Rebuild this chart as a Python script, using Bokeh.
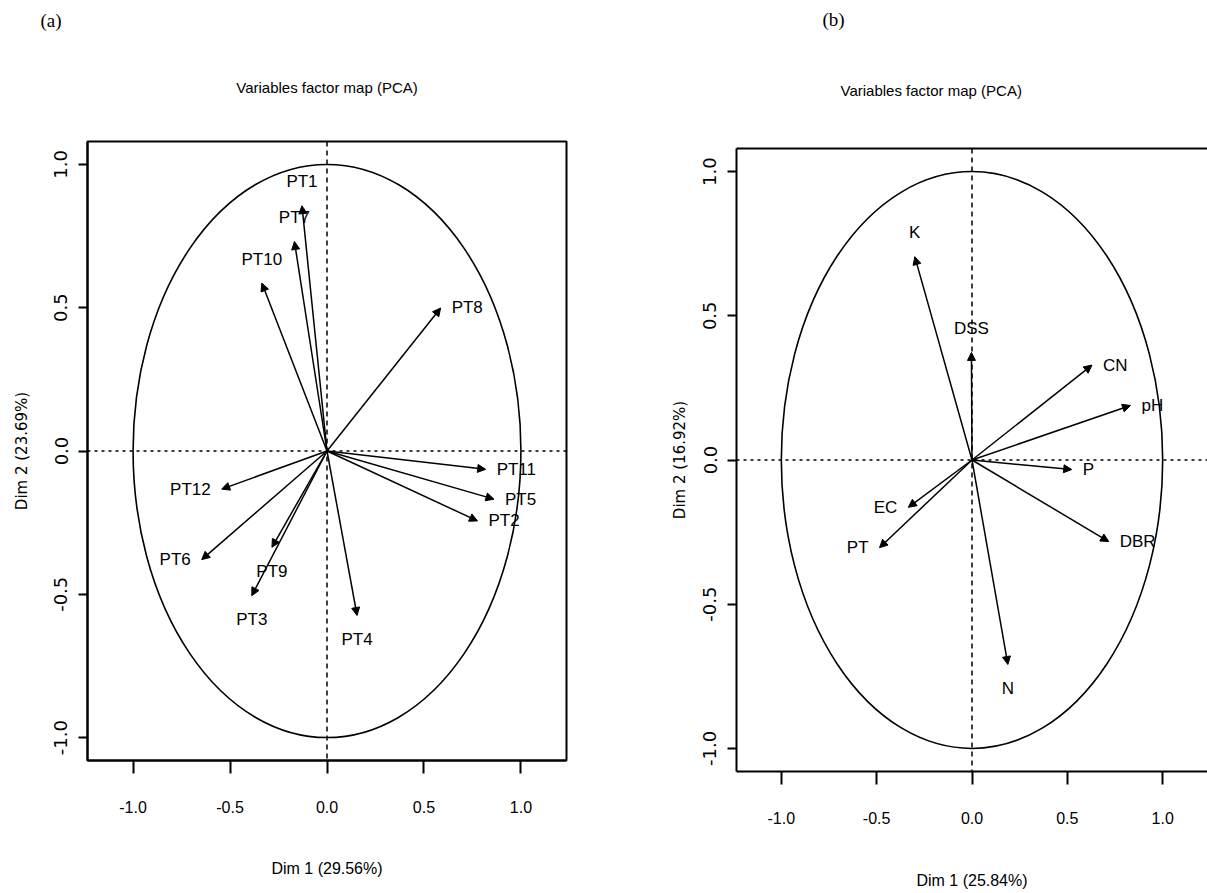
from bokeh.plotting import figure
from bokeh.models import (ColumnDataSource, Arrow, NormalHead, Span, Title,
                          LinearAxis, FixedTicker, Range1d, PrintfTickFormatter)
from bokeh.layouts import row, column
from bokeh.embed import file_html
from bokeh.resources import INLINE
from bokeh.core.properties import value

# ---------------- data ----------------
# Panel (a): PT variables
a_vars = ["PT1", "PT7", "PT10", "PT8", "PT11", "PT5", "PT2", "PT12", "PT6", "PT9", "PT3", "PT4"]
a_dim1 = [-0.129, -0.168, -0.336, 0.586, 0.818, 0.861, 0.776, -0.543, -0.646, -0.284, -0.388, 0.155]
a_dim2 = [0.856, 0.731, 0.586, 0.499, -0.064, -0.168, -0.244, -0.133, -0.379, -0.336, -0.505, -0.574]
a_xlab = "Dim 1 (29.56%)"
a_ylab = "Dim 2 (23.69%)"

# Panel (b): soil variables
b_vars = ["K", "DSS", "CN", "pH", "P", "DBR", "N", "PT", "EC"]
b_dim1 = [-0.300, -0.003, 0.629, 0.831, 0.523, 0.717, 0.188, -0.485, -0.334]
b_dim2 = [0.705, 0.373, 0.329, 0.189, -0.033, -0.283, -0.709, -0.304, -0.164]
b_xlab = "Dim 1 (25.84%)"
b_ylab = "Dim 2 (16.92%)"

ticks = [-1.0, -0.5, 0.0, 0.5, 1.0]
main_title = "Variables factor map (PCA)"
CIRCLE_RADIUS = 1.0

SANS = "Liberation Sans"
WIDE = "DejaVu Sans"
SERIF = "Liberation Serif"


def make_panel(tag, names, d1, d2, xlab, ylab, width, height, bl, bt, br, bb,
               x_als, y_als, tag_offset, tag_standoff, title_align, title_offset,
               title_standoff, full_box):
    p = figure(width=width, height=height,
               x_range=Range1d(-1.235, 1.235), y_range=Range1d(-1.08, 1.08),
               output_backend="svg", toolbar_location=None,
               min_border_left=bl, min_border_top=bt, min_border_right=br,
               min_border_bottom=bb, x_axis_type=None, y_axis_type=None)
    p.xgrid.visible = False
    p.ygrid.visible = False
    p.background_fill_color = "white"
    p.border_fill_color = "white"
    if full_box:
        p.outline_line_color = "black"
        p.outline_line_width = 2
    else:
        p.outline_line_color = None
        top = LinearAxis(ticker=FixedTicker(ticks=[]), axis_line_width=2,
                         axis_line_color="black")
        p.add_layout(top, "above")

    xa = LinearAxis(ticker=FixedTicker(ticks=ticks), axis_label=xlab,
                    formatter=PrintfTickFormatter(format="%.1f"))
    ya = LinearAxis(ticker=FixedTicker(ticks=ticks), axis_label=ylab,
                    formatter=PrintfTickFormatter(format="%.1f"))
    for ax in (xa, ya):
        ax.axis_line_width = 2
        ax.major_tick_line_width = 2
        ax.minor_tick_line_color = None
        ax.major_tick_in = 0
        ax.axis_label_text_font_style = "normal"
        ax.axis_label_text_color = "black"
        ax.major_label_text_color = "black"
    xa.major_tick_out = 13
    xa.major_label_standoff = 27
    xa.major_label_text_font = SANS
    xa.major_label_text_font_size = "16px"
    xa.axis_label_standoff = x_als
    xa.axis_label_text_font = SANS
    xa.axis_label_text_font_size = "16px"

    ya.major_tick_out = 9
    ya.major_label_standoff = 11
    ya.major_label_orientation = "vertical"
    ya.major_label_text_font = WIDE
    ya.major_label_text_font_size = "18px"
    ya.axis_label_standoff = y_als
    ya.axis_label_text_font = WIDE
    ya.axis_label_text_font_size = "15px"
    p.add_layout(xa, "below")
    p.add_layout(ya, "left")

    # titles above the frame
    p.add_layout(Title(text=main_title, align=title_align, offset=title_offset,
                       standoff=title_standoff, text_font=SANS, text_font_size="15px",
                       text_font_style="normal", text_color="black"), "above")
    p.add_layout(Title(text=tag, align="left", offset=tag_offset, standoff=tag_standoff,
                       text_font=SERIF, text_font_size="19px",
                       text_font_style="normal", text_color="black"), "above")

    # reference lines through the origin
    p.add_layout(Span(location=0, dimension="width", line_color="black",
                      line_width=1.5, line_dash="3 4"))
    p.add_layout(Span(location=0, dimension="height", line_color="black",
                      line_width=1.5, line_dash="5 4"))

    # correlation circle
    p.ellipse(x=[0.0], y=[0.0], width=[2 * CIRCLE_RADIUS], height=[2 * CIRCLE_RADIUS],
              fill_color=None, line_color="black", line_width=1.6)

    # label placement rule (as FactoMineR): horizontal if |x|>|y| else vertical
    align, xo, yo = [], [], []
    for x, y in zip(d1, d2):
        if abs(x) > abs(y):
            align.append("left" if x > 0 else "right")
            xo.append(11 if x > 0 else -11)
            yo.append(0)
        else:
            align.append("center")
            xo.append(0)
            yo.append(-24 if y > 0 else 24)
    src = ColumnDataSource(dict(x=d1, y=d2, name=names, align=align, xo=xo, yo=yo))

    p.add_layout(Arrow(end=NormalHead(size=8, fill_color="black", line_color="black",
                                      line_width=1),
                       x_start=0, y_start=0, x_end="x", y_end="y", source=src,
                       line_color="black", line_width=1.5))
    p.text(x="x", y="y", text="name", source=src, text_align="align",
           text_baseline="middle", x_offset="xo", y_offset="yo",
           text_font=value(SANS), text_font_size="17px", text_color="black")
    return p


pa = make_panel("(a)", a_vars, a_dim1, a_dim2, a_xlab, a_ylab,
                width=648, height=893, bl=87, bt=141, br=82, bb=133,
                x_als=44, y_als=21, tag_offset=-47, tag_standoff=0,
                title_align="center", title_offset=0, title_standoff=92, full_box=True)
pb = make_panel("(b)", b_vars, b_dim1, b_dim2, b_xlab, b_ylab,
                width=559, height=893, bl=88, bt=148, br=0, bb=122,
                x_als=45, y_als=12, tag_offset=86, tag_standoff=0,
                title_align="left", title_offset=104, title_standoff=100, full_box=False)

layout = row(column(pa), column(pb))
open("out.html", "w").write(file_html(layout, INLINE))
